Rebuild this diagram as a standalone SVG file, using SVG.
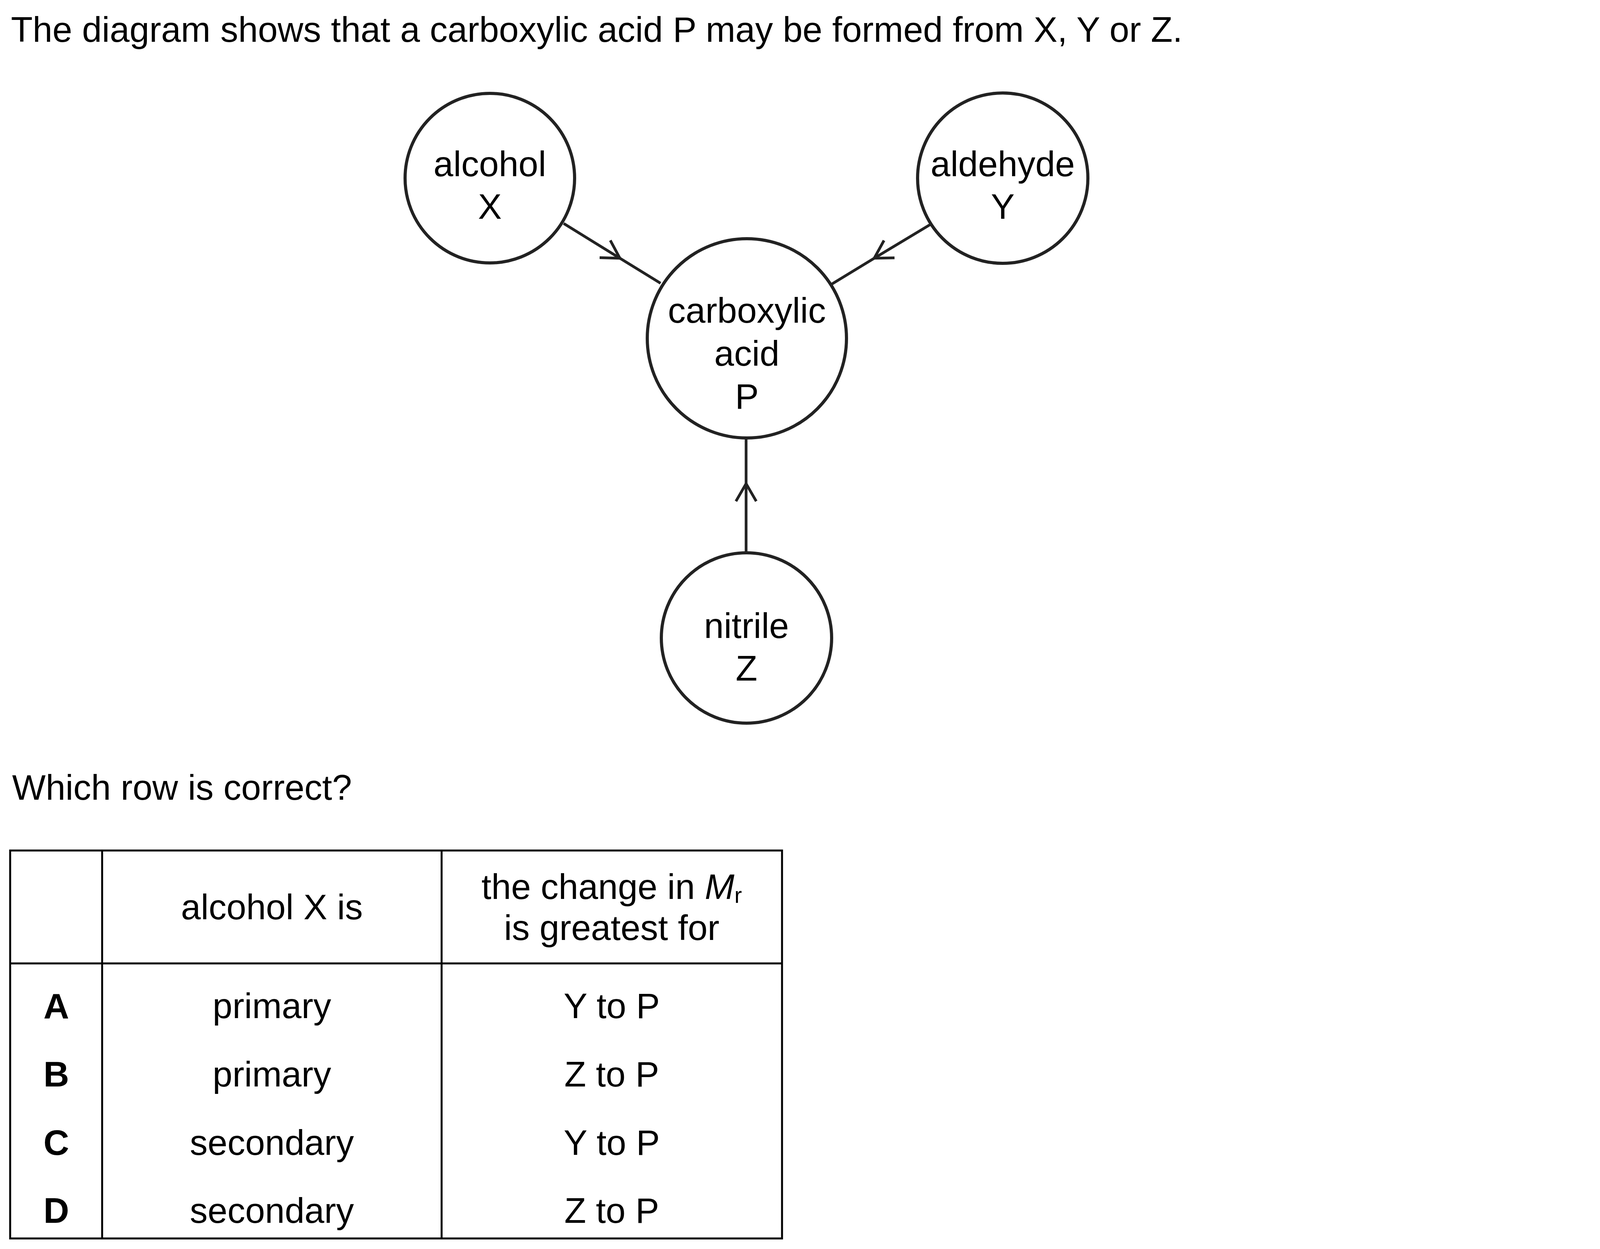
<svg xmlns="http://www.w3.org/2000/svg" width="4100" height="3197" viewBox="0 0 4100 3197">
<style>
  .t { font-family: "Liberation Sans", Arial, Helvetica, sans-serif; font-size: 91px; fill: #000; }
  .c { text-anchor: middle; }
  .b { font-weight: bold; }
  .node circle { fill: #fff; stroke: #222; stroke-width: 8; }
  .conn path { fill: none; stroke: #222; stroke-width: 7; }
  .tbl rect, .tbl line { fill: none; stroke: #000; stroke-width: 5; }
</style>
<defs>
  <marker id="v" markerUnits="userSpaceOnUse" orient="auto" refX="0" refY="0" markerWidth="120" markerHeight="120" viewBox="-60 -60 120 120" overflow="visible">
    <path d="M-45,-26 L0,0 L-45,26" fill="none" stroke="#222" stroke-width="7"/>
  </marker>
</defs>
<rect width="4100" height="3197" fill="#fff"/>

<text class="t" x="28" y="107">The diagram shows that a carboxylic acid P may be formed from X, Y or Z.</text>

<g id="connectors" class="conn">
  <path d="M1443,572 L1587,661 L1691,725" marker-mid="url(#v)"/>
  <path d="M2381,575 L2238,661 L2128,728" marker-mid="url(#v)"/>
  <path d="M1910,1415 L1910,1238 L1910,1121" marker-mid="url(#v)"/>
</g>

<g id="node-X" class="node">
  <circle cx="1254" cy="456" r="217"/>
  <text class="t c" x="1254" y="451">alcohol</text>
  <text class="t c" x="1254" y="560">X</text>
</g>
<g id="node-Y" class="node">
  <circle cx="2567" cy="456" r="218"/>
  <text class="t c" x="2567" y="451">aldehyde</text>
  <text class="t c" x="2567" y="560">Y</text>
</g>
<g id="node-P" class="node">
  <circle cx="1912" cy="866" r="255"/>
  <text class="t c" x="1912" y="826">carboxylic</text>
  <text class="t c" x="1912" y="936">acid</text>
  <text class="t c" x="1912" y="1046">P</text>
</g>
<g id="node-Z" class="node">
  <circle cx="1911" cy="1633" r="218"/>
  <text class="t c" x="1911" y="1633">nitrile</text>
  <text class="t c" x="1911" y="1742">Z</text>
</g>

<text class="t" x="31" y="2047">Which row is correct?</text>

<g id="table" class="tbl">
  <rect x="26" y="2177" width="1976" height="993"/>
  <line x1="261.5" y1="2177" x2="261.5" y2="3170"/>
  <line x1="1130.5" y1="2177" x2="1130.5" y2="3170"/>
  <line x1="26" y1="2466" x2="2002" y2="2466"/>
  <text class="t c" x="696" y="2353">alcohol X is</text>
  <text class="t c" x="1566" y="2301">the change in <tspan font-style="italic">M</tspan><tspan font-size="58" dy="10">r</tspan></text>
  <text class="t c" x="1566" y="2406">is greatest for</text>

  <text class="t c b" x="144" y="2607">A</text>
  <text class="t c b" x="144" y="2781">B</text>
  <text class="t c b" x="144" y="2956">C</text>
  <text class="t c b" x="144" y="3130">D</text>

  <text class="t c" x="696" y="2606">primary</text>
  <text class="t c" x="696" y="2781">primary</text>
  <text class="t c" x="696" y="2956">secondary</text>
  <text class="t c" x="696" y="3130">secondary</text>

  <text class="t c" x="1566" y="2606">Y to P</text>
  <text class="t c" x="1566" y="2781">Z to P</text>
  <text class="t c" x="1566" y="2956">Y to P</text>
  <text class="t c" x="1566" y="3130">Z to P</text>
</g>
</svg>
